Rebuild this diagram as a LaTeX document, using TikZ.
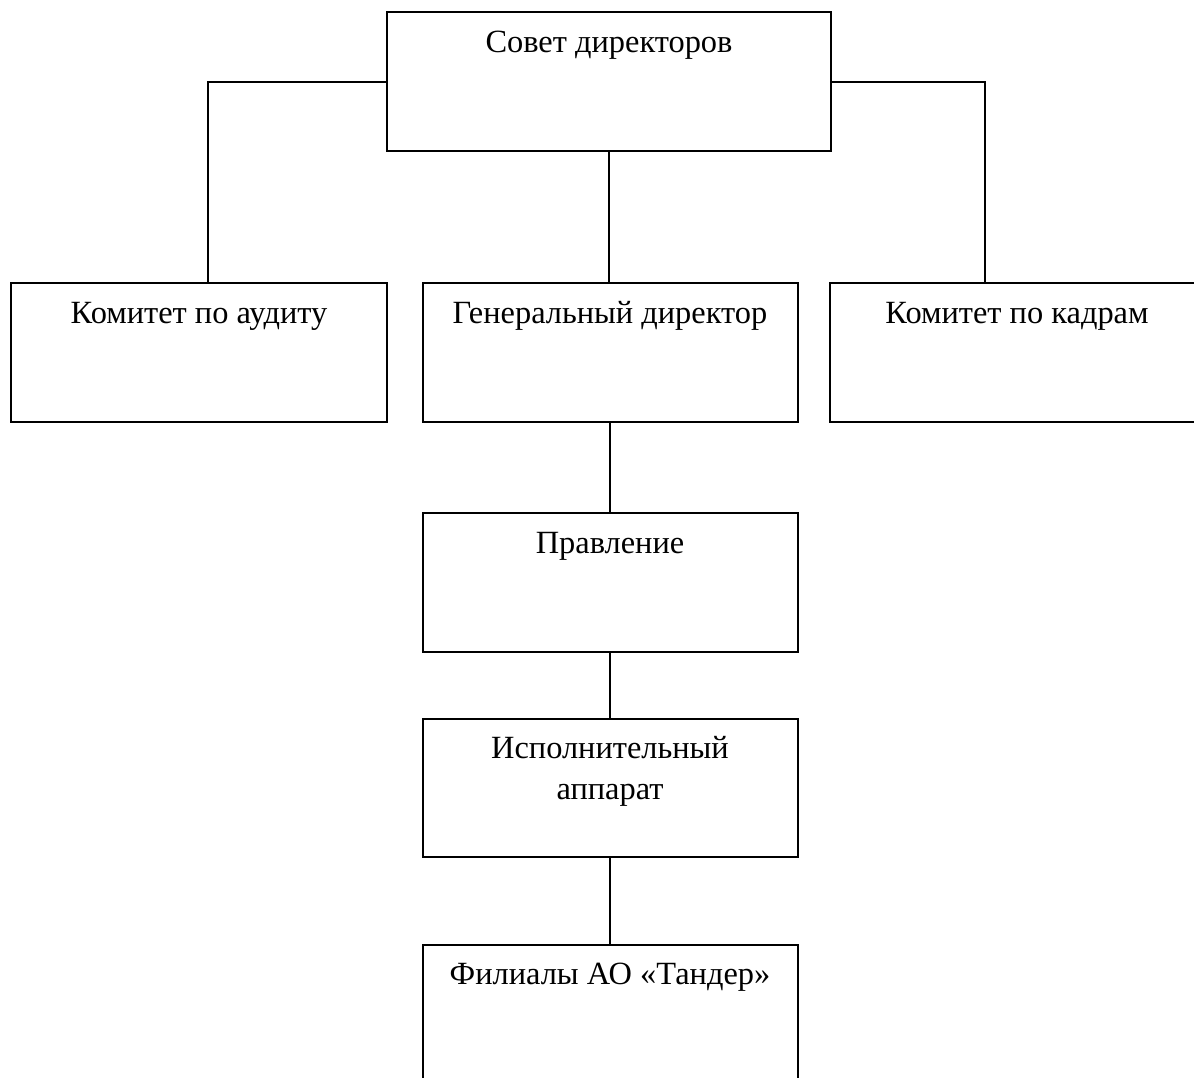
\documentclass[tikz,border=0pt]{standalone}
\usepackage{fontspec}
\setmainfont{Liberation Serif}
\usepackage{tikz}
\usetikzlibrary{calc, positioning}

\tikzset{
	box/.style={draw, line width=1pt, inner sep=0pt, minimum width=187.5pt, minimum height=69.5pt},
	lbl/.style={anchor=base, align=center, inner sep=0pt, font=\fontsize{16.2}{20.5}\selectfont},
	link/.style={line width=1pt}
}

\begin{document}
\begin{tikzpicture}[x=0.5pt, y=-0.5pt]
	\useasboundingbox (0,0) rectangle (1194,1077);
	
	\node[box, minimum width=222pt] (sovet) at (609,81.5) {};
	\node[box, minimum width=188pt] (audit) at (199,352.5) {};
	\node[box] (gen) at (610,352.5) {};
	\node[box, minimum width=190pt] (kadry) at (1020,352.5) {};
	\node[box] (pravl) at (610,582.5) {};
	\node[box, minimum height=69pt] (ispol) at (610,788) {};
	\node[box, minimum height=75pt] (filial) at (610,1020) {};
	
	\node[lbl] (sovet-t) at ([yshift=-20.5pt]sovet.north) {Совет директоров};
	\node[lbl] (audit-t) at ([yshift=-20.5pt]audit.north) {Комитет по аудиту};
	\node[lbl] (gen-t) at ([yshift=-20.5pt]gen.north) {Генеральный директор};
	\node[lbl] (kadry-t) at ([yshift=-20.5pt,xshift=-1.5pt]kadry.north) {Комитет по кадрам};
	\node[lbl] (pravl-t) at ([yshift=-20.5pt]pravl.north) {Правление};
	% base of a two-line node sits on its last line
	\node[lbl] (ispol-t) at ([yshift=-40.5pt]ispol.north) {Исполнительный\\аппарат};
	\node[lbl] (filial-t) at ([yshift=-20pt]filial.north) {Филиалы АО «Тандер»};
	
	\draw[link] (sovet.west) -| ([xshift=4.5pt]audit.north);
	\draw[link] (sovet.east) -| ([xshift=-17.5pt]kadry.north);
	\draw[link] (sovet.south) -- (sovet.south |- gen.north);
	\draw[link] (gen.south) -- (pravl.north);
	\draw[link] (pravl.south) -- (ispol.north);
	\draw[link] (ispol.south) -- (filial.north);
\end{tikzpicture}
\end{document}
